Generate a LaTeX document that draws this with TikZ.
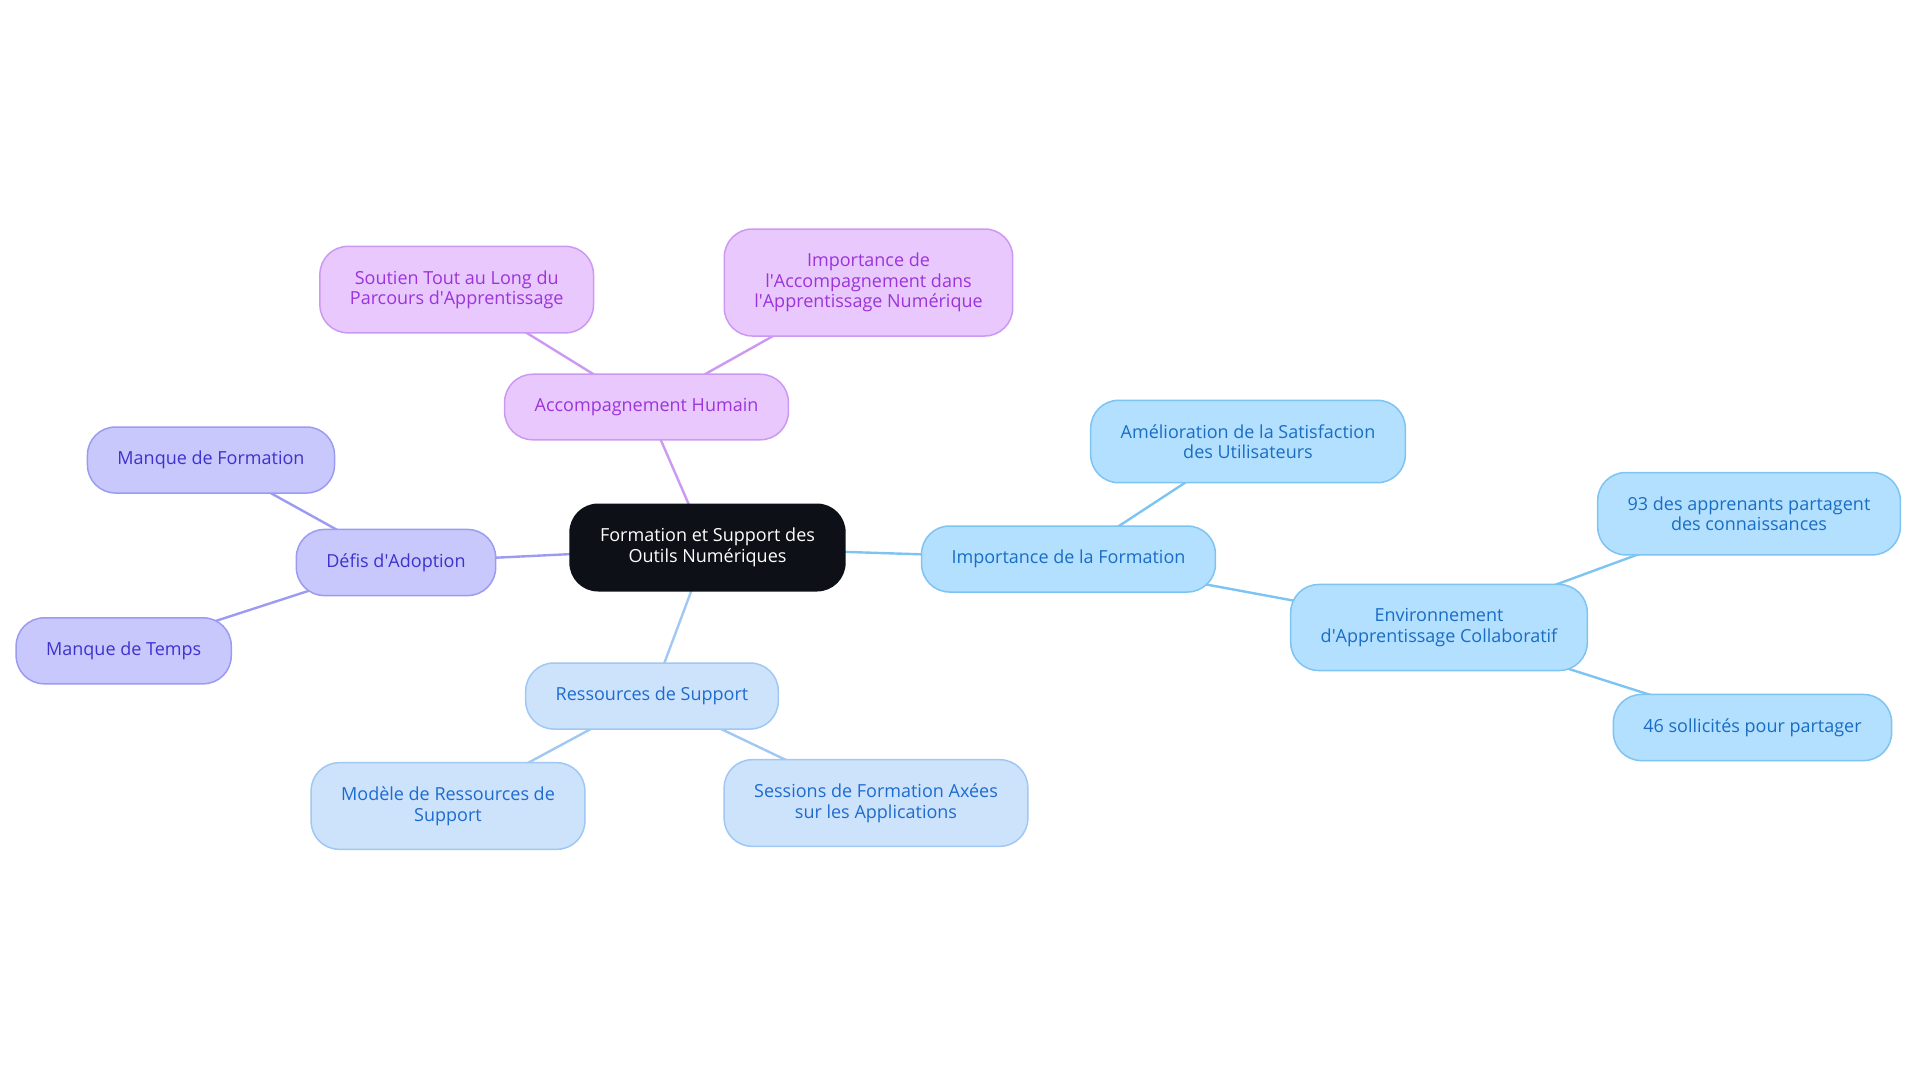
\documentclass[tikz,border=0pt]{standalone}
\usepackage{fontspec}
\setmainfont{Open Sans}
\usetikzlibrary{positioning, backgrounds}

\definecolor{rootfill}{HTML}{0D1117}
\definecolor{formfill}{HTML}{B3E0FF}
\definecolor{formdraw}{HTML}{7DC4F3}
\definecolor{formtext}{HTML}{1A6DC4}
\definecolor{ressfill}{HTML}{CCE3FB}
\definecolor{ressdraw}{HTML}{A0C8F2}
\definecolor{resstext}{HTML}{1E6BD0}
\definecolor{defifill}{HTML}{C8C8FC}
\definecolor{defidraw}{HTML}{9B9BF2}
\definecolor{defitext}{HTML}{3D33CC}
\definecolor{accfill}{HTML}{E9C9FD}
\definecolor{accdraw}{HTML}{CC99F2}
\definecolor{acctext}{HTML}{9B34DA}

\newcommand{\apos}{\textquotesingle}

\tikzset{
  mapbox/.style={rounded corners=14pt, draw, line width=0.75pt, align=center,
    inner xsep=15pt, inner ysep=12pt, font=\fontsize{9}{10.25}\selectfont},
  rootbox/.style={mapbox, fill=rootfill, draw=rootfill, text=white},
  formbox/.style={mapbox, fill=formfill, draw=formdraw, text=formtext},
  ressbox/.style={mapbox, fill=ressfill, draw=ressdraw, text=resstext},
  defibox/.style={mapbox, fill=defifill, draw=defidraw, text=defitext},
  accbox/.style={mapbox, fill=accfill, draw=accdraw, text=acctext},
  mapline/.style={line width=1.2pt},
}

\begin{document}
\begin{tikzpicture}[x=0.5pt,y=-0.5pt]
\useasboundingbox (0,0) rectangle (1920,1083);

% centre
\node[rootbox] (root) at (707.5,547.5) {Formation et Support des\\Outils Numériques};

% formation
\node[formbox] (imp) at (1068.5,559) {Importance de la Formation};
\node[formbox] (amel) at (1248,441.5) {Amélioration de la Satisfaction\\des Utilisateurs};
\node[formbox] (env) at (1439,627.5) {Environnement\\d\apos Apprentissage Collaboratif};
\node[formbox] (part) at (1749,513.7) {93 des apprenants partagent\\des connaissances};
\node[formbox] (soll) at (1752.5,727.5) {46 sollicités pour partager};

% ressources
\node[ressbox] (ress) at (652,696) {Ressources de Support};
\node[ressbox] (mod) at (448,806) {Modèle de Ressources de\\Support};
\node[ressbox] (sess) at (876,803) {Sessions de Formation Axées\\sur les Applications};

% defis
\node[defibox] (defi) at (396,562.5) {Défis d\apos Adoption};
\node[defibox] (mform) at (211,460) {Manque de Formation};
\node[defibox] (mtemps) at (123.7,650.8) {Manque de Temps};

% accompagnement
\node[accbox] (acc) at (646.5,407) {Accompagnement Humain};
\node[accbox] (sout) at (456.7,289.6) {Soutien Tout au Long du\\Parcours d\apos Apprentissage};
\node[accbox] (impacc) at (868.5,282.5) {Importance de\\l\apos Accompagnement dans\\l\apos Apprentissage Numérique};

% links, behind the boxes
\begin{scope}[on background layer]
\draw[mapline, formdraw] (root.center) -- (imp.center);
\draw[mapline, formdraw] (imp.center) -- (amel.center);
\draw[mapline, formdraw] (imp.center) -- (env.center);
\draw[mapline, formdraw] (env.center) -- (part.center);
\draw[mapline, formdraw] (env.center) -- (soll.center);

\draw[mapline, ressdraw] (root.center) -- (ress.center);
\draw[mapline, ressdraw] (ress.center) -- (mod.center);
\draw[mapline, ressdraw] (ress.center) -- (sess.center);

\draw[mapline, defidraw] (root.center) -- (defi.center);
\draw[mapline, defidraw] (defi.center) -- (mform.center);
\draw[mapline, defidraw] (defi.center) -- (mtemps.center);

\draw[mapline, accdraw] (root.center) -- (acc.center);
\draw[mapline, accdraw] (acc.center) -- (sout.center);
\draw[mapline, accdraw] (acc.center) -- (impacc.center);
\end{scope}

\end{tikzpicture}
\end{document}
